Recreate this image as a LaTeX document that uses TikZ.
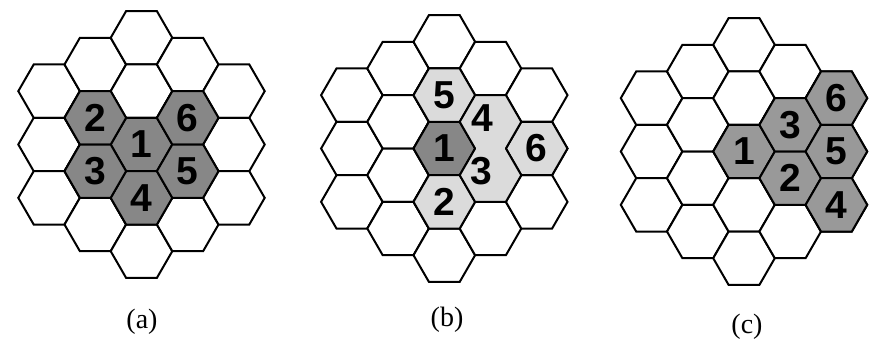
\documentclass[tikz,border=0pt]{standalone}
\usepackage{fontspec}
\setmainfont{Liberation Serif}
\newfontfamily\digitfont{Liberation Sans}
\usetikzlibrary{shapes.geometric,calc}
\definecolor{darkcell}{gray}{0.53}
\definecolor{midcell}{gray}{0.6}
\definecolor{lightcell}{gray}{0.86}
\tikzset{
  cell/.style={regular polygon, regular polygon sides=6, minimum size=61.6pt,
    inner sep=0pt, draw=black, line width=2pt, fill=white},
  cellline/.style={draw=black, line width=2pt, line join=round},
  num/.style={font=\digitfont\bfseries\fontsize{39}{39}\selectfont},
  caption/.style={font=\fontsize{28}{28}\selectfont}
}
\newcommand\hexgrid[3]{%
  \foreach \c/\n in {0/3,1/4,2/5,3/4,4/3}{%
    \foreach \r in {1,...,\n}{%
      \node[cell] (#1\c\r) at ({#2+46.2*(\c-2)},{#3+53.35*(\r-(\n+1)/2)}) {};
    }%
  }%
}
\begin{document}
\begin{tikzpicture}[x=1pt,y=-1pt]
\useasboundingbox (0,0) rectangle (885,343);
% ---------- (a)
\hexgrid{a}{141.5}{144.5}
\node[cell, fill=darkcell, num] (a1) at (a23) {1};
\node[cell, fill=darkcell, num] (a4) at (a24) {4};
\node[cell, fill=darkcell, num] (a2) at (a12) {2};
\node[cell, fill=darkcell, num] (a3) at (a13) {3};
\node[cell, fill=darkcell, num] (a6) at (a32) {6};
\node[cell, fill=darkcell, num] (a5) at (a33) {5};
\node[caption] (capa) at (142,322) {(a)};
% ---------- (b)
\hexgrid{b}{444.3}{148.5}
\node[cell, fill=darkcell, num] (b1) at (b23) {1};
\node[cell, fill=lightcell, num] (b5) at (b22) {5};
\node[cell, fill=lightcell, num] (b2) at (b24) {2};
\node[cell, fill=lightcell, num] (b6) at (b42) {6};
\draw[cellline, fill=lightcell]
  ($(b32)+(-15.4,-26.67)$) -- ($(b32)+(15.4,-26.67)$) -- ($(b32)+(30.8,0)$)
  -- ($(b32)+(15.4,26.67)$) -- ($(b33)+(30.8,0)$) -- ($(b33)+(15.4,26.67)$)
  -- ($(b33)+(-15.4,26.67)$) -- ($(b33)+(-30.8,0)$) -- ($(b33)+(-15.4,-26.67)$)
  -- ($(b32)+(-30.8,0)$) -- cycle;
\node[num] (b4) at ($(b32)+(-8,-4)$) {4};
\node[num] (b3) at ($(b33)+(-9,-4)$) {3};
\node[caption] (capb) at (447,320) {(b)};
% ---------- (c)
\hexgrid{c}{744}{151.5}
\node[cell, fill=midcell, num] (c1) at (c23) {1};
\node[cell, fill=midcell, num] (c3) at (c32) {3};
\node[cell, fill=midcell, num] (c2) at (c33) {2};
\node[cell, fill=midcell, num] (c6) at (c41) {6};
\node[cell, fill=midcell, num] (c5) at (c42) {5};
\node[cell, fill=midcell, num] (c4) at (c43) {4};
\node[caption] (capc) at (747,327) {(c)};
\end{tikzpicture}
\end{document}
